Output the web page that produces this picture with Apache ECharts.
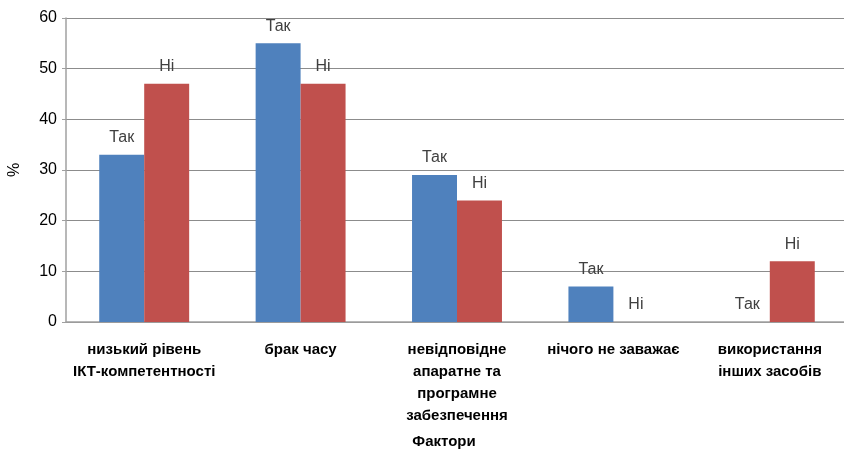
<!DOCTYPE html>
<html>
<head>
<meta charset="utf-8">
<script src="https://cdn.jsdelivr.net/npm/echarts@6/dist/echarts.min.js"></script>
<style>
html,body{margin:0;padding:0;background:#fff;}
#c{width:844px;height:449px;}
</style>
</head>
<body>
<div id="c"></div>
<script>
const categories = ['низький рівень\nІКТ-компетентності', 'брак часу', 'невідповідне\nапаратне та\nпрограмне\nзабезпечення', 'нічого не заважає', 'використання\nінших засобів'];
const seriesNames = ['Так', 'Ні'];
const yesValues = [33, 55, 29, 7, 0];
const noValues = [47, 47, 24, 0, 12];
const yTicks = [0, 10, 20, 30, 40, 50, 60];

const chart = echarts.init(document.getElementById('c'), null, {renderer: 'canvas'});
const labelStyle = {
  show: true,
  position: 'top',
  distance: 9,
  formatter: p => p.seriesName,
  color: '#404040',
  fontFamily: 'Liberation Sans, sans-serif',
  fontSize: 16
};
chart.setOption({
  animation: false,
  grid: {left: 66, top: 18, width: 782, bottom: 127, containLabel: false, outerBoundsMode: 'none'},
  xAxis: {
    type: 'category',
    data: categories,
    name: 'Фактори',
    nameLocation: 'middle',
    nameGap: 112,
    nameTextStyle: {fontFamily: 'Liberation Sans, sans-serif', fontSize: 15, fontWeight: 'bold', color: '#000', padding: [0, 26, 0, 0]},
    axisLine: {lineStyle: {color: '#a0a0a0', width: 1.5}},
    axisTick: {show: false},
    axisLabel: {interval: 0, margin: 17, fontFamily: 'Liberation Sans, sans-serif', fontSize: 15, fontWeight: 'bold', color: '#000', lineHeight: 22}
  },
  yAxis: {
    type: 'value',
    min: yTicks[0],
    max: yTicks[yTicks.length - 1],
    interval: 10,
    name: '%',
    nameLocation: 'middle',
    nameGap: 43,
    nameTextStyle: {fontFamily: 'Liberation Sans, sans-serif', fontSize: 16, color: '#000'},
    axisLine: {show: true, lineStyle: {color: '#a0a0a0', width: 1.5}},
    axisTick: {show: true, length: 4, lineStyle: {color: '#a0a0a0'}},
    axisLabel: {margin: 9, fontFamily: 'Liberation Sans, sans-serif', fontSize: 16, color: '#000'},
    splitLine: {lineStyle: {color: '#8c8c8c', width: 1.2}}
  },
  series: [
    {name: seriesNames[0], type: 'bar', data: yesValues, barGap: '0%', barCategoryGap: '42.5%', itemStyle: {color: '#4F81BD'}, label: labelStyle},
    {name: seriesNames[1], type: 'bar', data: noValues, itemStyle: {color: '#C0504D'}, label: labelStyle}
  ]
});
</script>
</body>
</html>
